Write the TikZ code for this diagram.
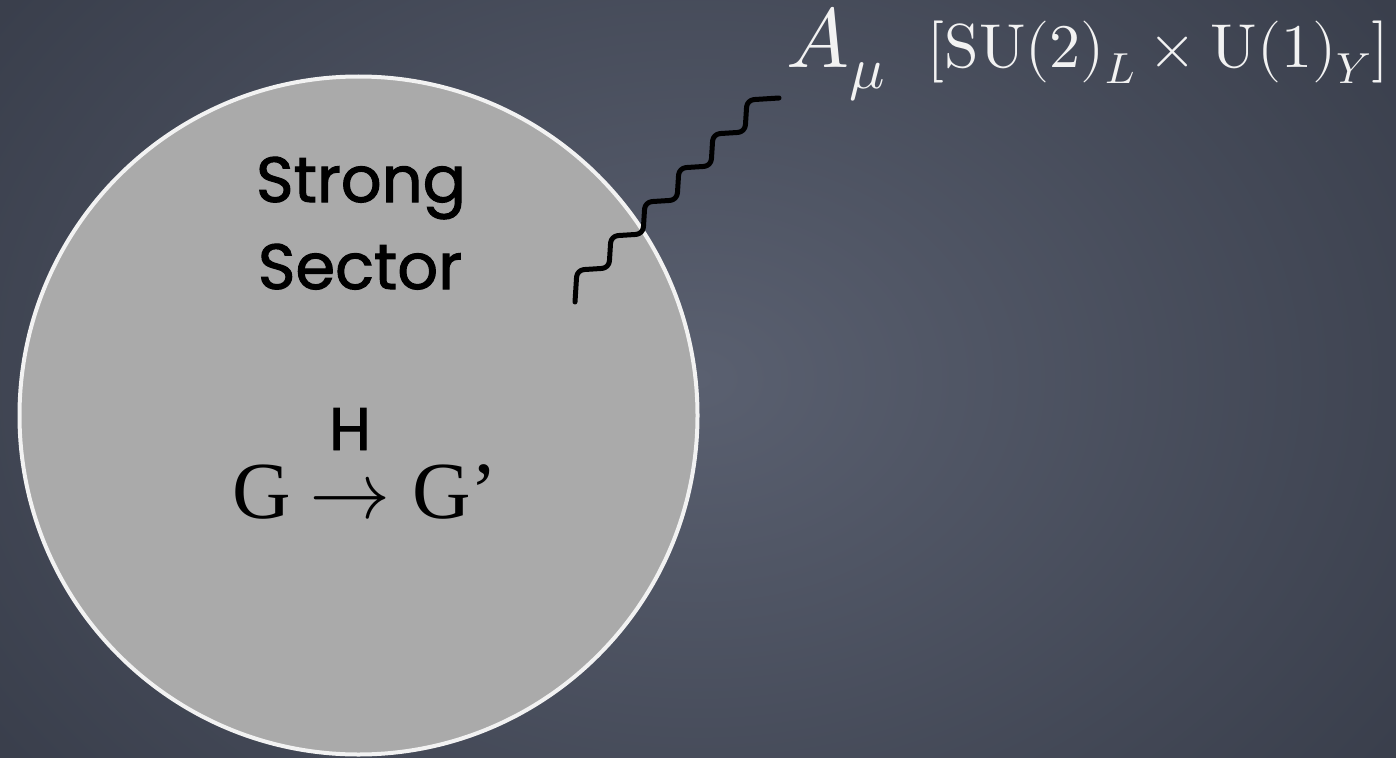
\documentclass[tikz,border=0pt]{standalone}
\usepackage{fontspec}
\usepackage{unicode-math}
\setmathfont{Latin Modern Math}
\setmainfont{Liberation Serif}
\newfontfamily\comicfont[FakeBold=1.6]{Poppins}
\definecolor{boardA}{RGB}{90,96,112}
\definecolor{boardB}{RGB}{56,61,74}
\definecolor{sectorfill}{RGB}{170,170,170}
\definecolor{chalk}{RGB}{242,242,242}
\begin{document}
\begin{tikzpicture}[x=1pt,y=-1pt,
  handtext/.style={font=\comicfont\fontsize{64}{64}\selectfont, text=black, inner sep=0pt, anchor=base},
  serifbig/.style={font=\fontsize{81}{81}\selectfont, text=black, inner sep=0pt},
  labeltext/.style={text=chalk, inner sep=0pt, anchor=base west},
  wave/.style={line width=5pt, black, rounded corners=7pt, line cap=round, line join=round},
  sectorstyle/.style={circle, fill=sectorfill, draw=chalk, line width=4pt, minimum size=678pt, inner sep=0pt}
]
\useasboundingbox (0,0) rectangle (1396,757);
\shade[inner color=boardA, outer color=boardB] (-200,-300) rectangle (1596,1057);
\node[sectorstyle] (sector) at (358.5,415.5) {};
\node[handtext] (strong) at (361,202) {Strong};
\node[handtext] (sectorword) at (360,289) {Sector};
\node[handtext, font=\comicfont\fontsize{60}{60}\selectfont] (h) at (350,450) {H};
\node[serifbig, anchor=base west] (g1) at (232,518) {G};
\node[serifbig, anchor=base] (arr) at (350,518) {\smash{$\rightarrow$}};
\node[serifbig, anchor=base west] (g2) at (412,518) {G’};
\node[labeltext, font=\fontsize{84}{84}\selectfont] (amu) at (786,68) {$A_\mu$};
\node[labeltext, font=\fontsize{62}{62}\selectfont] (group) at (927,68) {$[\symup{SU}(2)_L\times\symup{U}(1)_Y]$};
\coordinate (wstart) at (575,302);
\draw[wave] (wstart) -- ++(2,-32) -- ++(32,-2) -- ++(2,-32) -- ++(32,-2)
  -- ++(2,-32) -- ++(32,-2) -- ++(2,-32) -- ++(32,-2)
  -- ++(2,-32) -- ++(32,-2) -- ++(2,-32) -- ++(32,-2) coordinate (wend);
\end{tikzpicture}
\end{document}
